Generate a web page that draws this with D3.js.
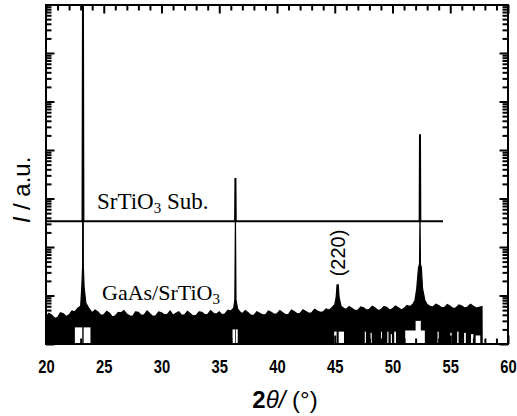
<!DOCTYPE html>
<html>
<head>
<meta charset="utf-8">
<script src="https://cdn.jsdelivr.net/npm/d3@7"></script>
<style>
  body { margin: 0; background: #fff; }
  svg { display: block; }
</style>
</head>
<body>
<div id="root"></div>
<script>
const xTickValues = [20, 25, 30, 35, 40, 45, 50, 55, 60];

// SrTiO3 substrate scan (drawn offset above the film scan)
const subAngle = [20, 23.16, 23.2, 23.24, 36.37, 36.4, 36.43, 52.35, 52.38, 52.41, 54.37];
const subCounts = [340, 340, 1e8, 340, 340, 2650, 340, 340, 21000, 340, 340];

// GaAs/SrTiO3 film scan, top edge of the noisy band
const filmAngle = [
  20, 20.25, 20.5, 20.75, 21, 21.25, 21.5, 21.75, 22, 22.25, 22.5, 22.75,
  23, 23.1, 23.17, 23.2, 23.23, 23.3, 23.45, 23.7,
  24, 24.25, 24.5, 24.75, 25, 25.25, 25.5, 25.75, 26, 26.25, 26.5, 26.75,
  27, 27.25, 27.5, 27.75, 28, 28.25, 28.5, 28.75, 29, 29.25, 29.5, 29.75,
  30, 30.25, 30.5, 30.75, 31, 31.25, 31.5, 31.75, 32, 32.25, 32.5, 32.75,
  33, 33.25, 33.5, 33.75, 34, 34.25, 34.5, 34.75, 35, 35.25, 35.5, 35.75,
  36, 36.25, 36.35, 36.4, 36.45, 36.6, 36.8, 37, 37.25, 37.5, 37.75,
  38, 38.25, 38.5, 38.75, 39, 39.25, 39.5, 39.75, 40, 40.25, 40.5, 40.75,
  41, 41.25, 41.5, 41.75, 42, 42.25, 42.5, 42.75, 43, 43.25, 43.5, 43.75,
  44, 44.25, 44.5, 44.75, 45, 45.12, 45.2, 45.3, 45.38, 45.55, 45.8,
  46, 46.25, 46.5, 46.75, 47, 47.25, 47.5, 47.75, 48, 48.25, 48.5, 48.75,
  49, 49.25, 49.5, 49.75, 50, 50.25, 50.5, 50.75, 51, 51.25, 51.5, 51.75,
  51.95, 52.1, 52.25, 52.34, 52.38, 52.42, 52.5, 52.6, 52.8,
  53, 53.25, 53.5, 53.75, 54, 54.25, 54.5, 54.75, 55, 55.25, 55.5, 55.75,
  56, 56.25, 56.5, 56.75, 57, 57.25, 57.5, 57.75, 57.76
];
const filmCounts = [
  3.6, 4.3, 3.9, 3.4, 3.5, 4.4, 4.2, 3.7, 4.0, 4.8, 4.6, 5.5,
  6, 15, 40, 1e8, 40, 15, 7, 5.5,
  4.4, 5.0, 4.6, 3.9, 4.0, 4.7, 4.3, 3.6, 3.8, 4.5, 4.4, 4.9,
  4.1, 3.8, 3.7, 4.6, 4.5, 3.9, 4.0, 4.8, 4.2, 3.7, 3.8, 4.6,
  4.4, 4.0, 4.1, 4.8, 3.9, 4.3, 4.6, 3.9, 4.0, 4.7, 4.2, 3.8,
  3.9, 4.6, 4.5, 4.0, 4.1, 4.9, 4.3, 4.1, 4.6, 4.0, 4.2, 5.0,
  4.8, 5.5, 8, 400, 8, 5.2, 4.6, 4.2, 4.9, 4.4, 3.9,
  3.9, 4.6, 4.3, 4.0, 4.0, 4.8, 4.5, 4.1, 4.2, 4.9, 4.4, 4.0,
  4.1, 5.0, 4.6, 4.2, 4.3, 5.1, 4.7, 4.3, 4.4, 5.2, 4.8, 4.5,
  4.6, 5.3, 5.0, 5.6, 6.5, 9, 16.5, 16.5, 9, 6, 5.4,
  5.2, 5.9, 5.4, 4.9, 5.0, 5.8, 5.6, 5.0, 5.2, 6.0, 5.5, 4.9,
  5.1, 5.9, 5.7, 5.0, 5.3, 6.1, 5.6, 5.1, 5.4, 6.2, 5.9, 6.5,
  8, 14, 37, 45, 400, 45, 37, 14, 8,
  6.5, 6.0, 5.8, 6.6, 6.2, 5.6, 5.7, 6.5, 6.0, 5.4, 5.6, 6.4,
  6.1, 5.5, 5.8, 6.6, 6.0, 5.5, 5.7, 5.9, 1
];

// white dropouts at the foot of the film band
const gapStart = [22.5, 23.26, 36.15, 36.43, 44.95, 45.34, 47.6, 48.1, 49.0, 49.55, 49.85, 50.15,
  51.1, 52.0, 53.9, 55.0, 55.6, 56.2, 56.8, 57.2];
const gapEnd = [23.14, 23.85, 36.37, 36.6, 45.16, 45.8, 47.7, 48.2, 49.08, 49.65, 49.95, 50.3,
  52.8, 52.45, 54.0, 55.12, 55.72, 56.35, 57.0, 57.6];
const gapCounts = [2.2, 2.2, 2.0, 2.0, 1.8, 1.8, 1.8, 1.7, 1.8, 1.8, 1.6, 1.8,
  1.9, 3.0, 1.8, 1.7, 1.8, 1.7, 1.6, 1.5];

class XrdChart {
  constructor() {
    this.width = 517;
    this.height = 416;
    this.margin = { top: 5, right: 9, bottom: 72, left: 46 };
  }

  initialize() {
    this.x0 = this.margin.left;
    this.x1 = this.width - this.margin.right;
    this.y0 = this.height - this.margin.bottom;
    this.y1 = this.margin.top;
    this.x = d3.scaleLinear().domain([20, 60]).range([this.x0, this.x1]);
    this.y = d3.scaleLog().domain([1, 1e7]).range([this.y0, 4.5]).clamp(true);
    this.sub = subAngle.map((a, i) => [a, subCounts[i]]);
    this.film = filmAngle.map((a, i) => [a, filmCounts[i]]);
    this.gaps = gapStart.map((s, i) => ({ s: s, e: gapEnd[i], c: gapCounts[i] }));
  }

  setSvg() {
    this.svg = d3.select("#root")
      .append("svg")
      .attr("width", this.width)
      .attr("height", this.height);
    this.svg.append("defs")
      .append("clipPath")
      .attr("id", "plot")
      .append("rect")
      .attr("x", this.x0)
      .attr("y", this.y1)
      .attr("width", this.x1 - this.x0)
      .attr("height", this.y0 - this.y1);
    this.plot = this.svg.append("g").attr("clip-path", "url(#plot)");
  }

  drawFilm() {
    const area = d3.area()
      .x(d => this.x(d[0]))
      .y0(this.y(1))
      .y1(d => this.y(d[1]));
    this.plot.append("path")
      .datum(this.film)
      .attr("d", area)
      .attr("fill", "#000")
      .attr("stroke", "#000")
      .attr("stroke-width", 1.2);

    this.plot.selectAll("rect.gap")
      .data(this.gaps)
      .enter()
      .append("rect")
      .attr("class", "gap")
      .attr("x", d => this.x(d.s))
      .attr("width", d => this.x(d.e) - this.x(d.s))
      .attr("y", d => this.y(d.c))
      .attr("height", d => this.y(1) - this.y(d.c))
      .attr("fill", "#fff");
  }

  drawSubstrate() {
    const line = d3.line()
      .x(d => this.x(d[0]))
      .y(d => this.y(d[1]));
    this.plot.append("path")
      .datum(this.sub)
      .attr("d", line)
      .attr("fill", "none")
      .attr("stroke", "#000")
      .attr("stroke-width", 2);
  }

  // one axis per side, inward ticks; majors made longer afterwards
  drawTicks(axis, values, isMajor, attr, sign, tx, ty, format) {
    const g = this.svg.append("g")
      .attr("transform", `translate(${tx},${ty})`)
      .call(axis.tickValues(values).tickSize(-4).tickSizeOuter(0).tickFormat(format || (() => "")));
    g.select(".domain").remove();
    g.selectAll(".tick line")
      .attr("stroke", "#000")
      .attr("stroke-width", 2)
      .attr(attr, d => sign * (isMajor(d) ? 8.5 : 5.5));
    return g;
  }

  drawAxes() {
    const minorX = d3.range(20, 61, 1);
    const logTicks = [];
    for (let k = 0; k < 7; k += 1) {
      for (let m = 1; m < 10; m += 1) logTicks.push(m * Math.pow(10, k));
    }
    const majorX = d => xTickValues.includes(d);
    const majorY = d => Math.abs(Math.log10(d) - Math.round(Math.log10(d))) < 1e-9;

    this.drawTicks(d3.axisTop(this.x), minorX, majorX, "y2", 1, 0, this.y1);
    this.drawTicks(d3.axisLeft(this.y), logTicks, majorY, "x2", 1, this.x0, 0);
    this.drawTicks(d3.axisRight(this.y), logTicks, majorY, "x2", -1, this.x1, 0);

    this.drawTicks(d3.axisBottom(this.x).tickPadding(16), minorX, majorX, "y2", -1, 0, this.y0,
      d => (majorX(d) ? d : ""))
      .selectAll("text")
      .attr("fill", "#000")
      .attr("transform", "scale(0.82,1)")
      .attr("font-family", "'Liberation Sans', Arial, sans-serif")
      .attr("font-weight", "bold")
      .attr("font-size", 18);

    this.svg.append("rect")
      .attr("x", this.x0)
      .attr("y", this.y1)
      .attr("width", this.x1 - this.x0)
      .attr("height", this.y0 - this.y1)
      .attr("fill", "none")
      .attr("stroke", "#000")
      .attr("stroke-width", 2);
  }

  drawLabels() {
    const serif = "'Liberation Serif', 'Times New Roman', serif";
    const sans = "'Liberation Sans', Arial, sans-serif";

    const sub = this.svg.append("text")
      .attr("x", 97)
      .attr("y", 209)
      .attr("font-family", serif)
      .attr("font-size", 23);
    sub.append("tspan").text("SrTiO");
    sub.append("tspan").attr("font-size", 15).attr("dy", 4).text("3");
    sub.append("tspan").attr("dy", -4).text(" Sub.");

    const film = this.svg.append("text")
      .attr("x", 102)
      .attr("y", 300)
      .attr("font-family", serif)
      .attr("font-size", 22);
    film.append("tspan").text("GaAs/SrTiO");
    film.append("tspan").attr("font-size", 15).attr("dy", 4).text("3");

    this.svg.append("text")
      .attr("transform", `translate(${this.x(45.25) + 7},253) rotate(-90)`)
      .attr("text-anchor", "middle")
      .attr("font-family", sans)
      .attr("font-size", 20)
      .text("(220)");

    const xt = this.svg.append("text")
      .attr("x", 285)
      .attr("y", 408)
      .attr("text-anchor", "middle")
      .attr("font-family", sans)
      .attr("font-size", 24);
    xt.append("tspan").attr("font-weight", "bold").text("2");
    xt.append("tspan").attr("font-style", "italic").text("θ/ ");
    xt.append("tspan").text("(°)");

    const yt = this.svg.append("text")
      .attr("transform", "translate(30,190) rotate(-90)")
      .attr("text-anchor", "middle")
      .attr("font-family", sans)
      .attr("font-size", 24);
    yt.append("tspan").attr("font-style", "italic").text("I");
    yt.append("tspan").text(" / a.u.");
  }

  draw() {
    this.initialize();
    this.setSvg();
    this.drawFilm();
    this.drawSubstrate();
    this.drawAxes();
    this.drawLabels();
  }
}

const chart = new XrdChart();
chart.draw();
</script>
</body>
</html>
